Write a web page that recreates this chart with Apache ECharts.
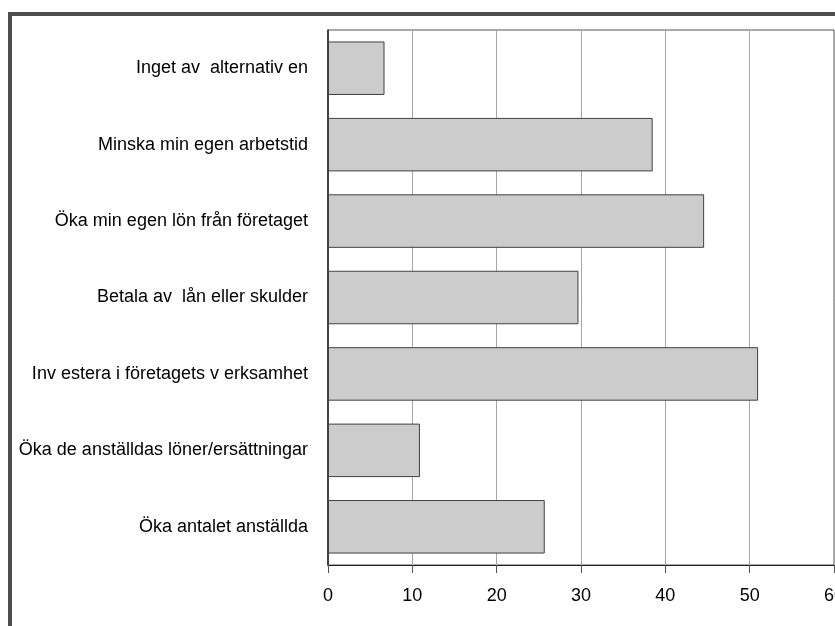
<!DOCTYPE html>
<html>
<head>
<meta charset="utf-8">
<script src="https://cdn.jsdelivr.net/npm/echarts@6/dist/echarts.min.js"></script>
<style>
  html, body { margin: 0; padding: 0; background: #fff; }
  #ChartDom { width: 835px; height: 626px; }
</style>
</head>
<body>
<div id="ChartDom"></div>
<script>
// categories listed top to bottom
const categories = [
  "Inget av  alternativ en",
  "Minska min egen arbetstid",
  "Öka min egen lön från företaget",
  "Betala av  lån eller skulder",
  "Inv estera i företagets v erksamhet",
  "Öka de anställdas löner/ersättningar",
  "Öka antalet anställda",
]
const values = [6.7, 38.5, 44.6, 29.7, 51.0, 10.9, 25.7]
const xMin = 0
const xMax = 60
const xStep = 10

const chartDom = document.getElementById("ChartDom")
const myChart = echarts.init(chartDom)

const option = {
  animation: false,
  backgroundColor: "#ffffff",
  textStyle: { fontFamily: "Liberation Sans, Arial, sans-serif" },
  graphic: [
    {
      type: "rect",
      shape: { x: 10, y: 14, width: 900, height: 700 },
      style: { fill: "none", stroke: "#4d4d4d", lineWidth: 4 },
      z: 100,
    },
  ],
  grid: {
    left: 328,
    right: 1,
    top: 30,
    bottom: 61,
    outerBoundsMode: "none",
    containLabel: false,
    show: true,
    borderColor: "#555555",
    borderWidth: 1,
  },
  xAxis: {
    type: "value",
    min: xMin,
    max: xMax,
    interval: xStep,
    axisLine: { show: true, lineStyle: { color: "#222222", width: 1 } },
    axisTick: { show: true, length: 8, lineStyle: { color: "#555555" } },
    splitLine: { show: true, lineStyle: { color: "#a6a6a6", width: 1 } },
    axisLabel: {
      color: "#000000",
      fontSize: 18,
      margin: 22,
      fontFamily: "Liberation Sans",
    },
  },
  yAxis: {
    type: "category",
    inverse: true,
    data: categories,
    axisLine: { show: true, lineStyle: { color: "#222222", width: 1.5 } },
    axisTick: { show: false },
    splitLine: { show: false },
    axisLabel: {
      color: "#000000",
      fontSize: 18,
      margin: 20,
      fontFamily: "Liberation Sans",
    },
  },
  series: [
    {
      type: "bar",
      data: values,
      barCategoryGap: "30%",
      itemStyle: {
        color: "#cccccc",
        borderColor: "#404040",
        borderWidth: 1,
      },
    },
  ],
}

myChart.setOption(option)
</script>
</body>
</html>
